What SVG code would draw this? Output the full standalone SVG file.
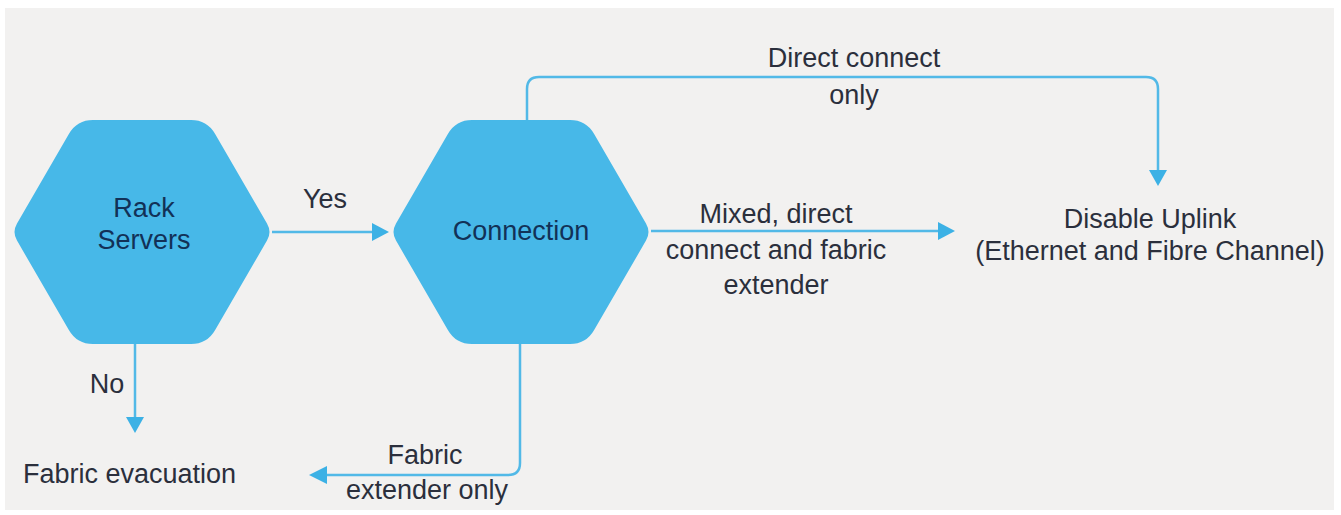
<svg xmlns="http://www.w3.org/2000/svg" width="1341" height="515" viewBox="0 0 1341 515">
<defs>
<style>
.hex{fill:#47b8e8}
.ht{font-family:"Liberation Sans",Arial,sans-serif;font-size:27px;fill:#123157;text-anchor:middle}
.lt{font-family:"Liberation Sans",Arial,sans-serif;font-size:27px;fill:#2b2f3c;text-anchor:middle}
.ln{fill:none;stroke:#52b9e7;stroke-width:2.5}
.ah{fill:#3cb1e5}
</style>
<path id="hx" d="M -49,-112 L 49,-112 Q 65,-112 73,-98.2 L 125,-8.6 Q 130,0 125,8.6 L 73,98.2 Q 65,112 49,112 L -49,112 Q -65,112 -73,98.2 L -125,8.6 Q -130,0 -125,-8.6 L -73,-98.2 Q -65,-112 -49,-112 Z"/>
</defs>
<rect width="1341" height="515" fill="#ffffff"/>
<rect x="5" y="8" width="1329" height="502" fill="#f2f1f0"/>
<g id="connectors">
<path class="ln" d="M272,232 H374"/>
<polygon class="ah" points="372,223 389,232 372,241"/>
<path class="ln" d="M135,344 V418"/>
<polygon class="ah" points="126,417 135,433 144,417"/>
<path class="ln" d="M651,231 H940"/>
<polygon class="ah" points="938,222 955,231 938,240"/>
<path class="ln" d="M527,120 V89 Q527,77 539,77 H1146 Q1158,77 1158,89 V171"/>
<polygon class="ah" points="1149,170 1158,186 1167,170"/>
<path class="ln" d="M520,344 V463 Q520,475 508,475 H325"/>
<polygon class="ah" points="327,466 309,475 327,484"/>
<text class="lt" x="325" y="208">Yes</text>
<text class="lt" x="107" y="393">No</text>
<text class="lt" x="854" y="67">Direct connect</text>
<text class="lt" x="854" y="104">only</text>
<text class="lt" x="776" y="223">Mixed, direct</text>
<text class="lt" x="776" y="259">connect and fabric</text>
<text class="lt" x="776" y="294">extender</text>
<text class="lt" x="425" y="464">Fabric</text>
<text class="lt" x="427" y="499">extender only</text>
</g>
<g id="rack-servers">
<use href="#hx" class="hex" transform="translate(142,232)"/>
<text class="ht" x="144" y="217">Rack</text>
<text class="ht" x="144" y="249">Servers</text>
</g>
<g id="connection">
<use href="#hx" class="hex" transform="translate(521,232)"/>
<text class="ht" x="521" y="240">Connection</text>
</g>
<g id="disable-uplink">
<text class="lt" x="1150" y="228">Disable Uplink</text>
<text class="lt" x="1150" y="260">(Ethernet and Fibre Channel)</text>
</g>
<g id="fabric-evacuation">
<text class="lt" x="23" y="483" style="text-anchor:start">Fabric evacuation</text>
</g>
</svg>
